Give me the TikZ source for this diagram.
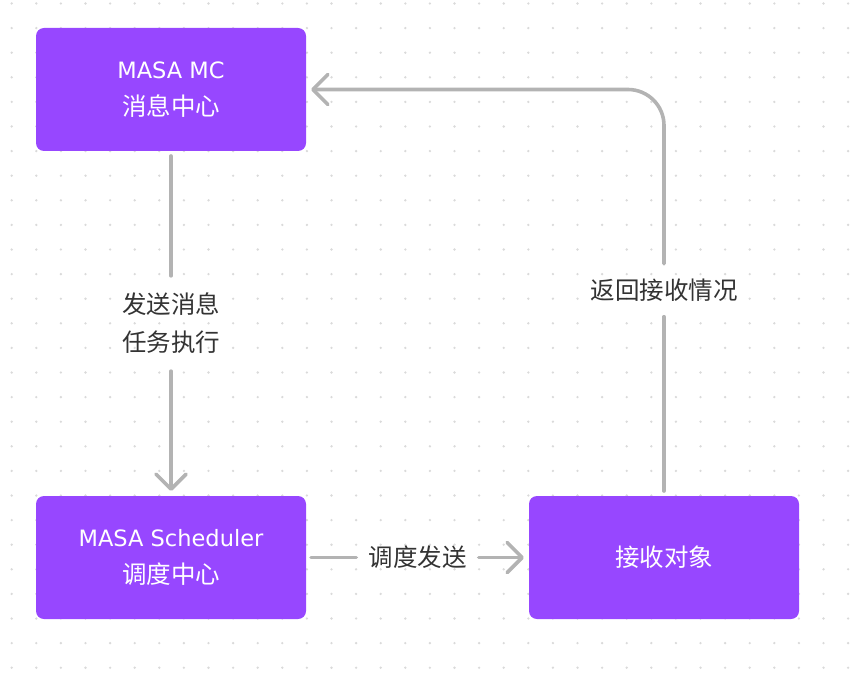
\documentclass[tikz,border=0pt]{standalone}
\usepackage{fontspec}
\setmainfont{DejaVu Sans}
\newfontfamily\cjk{Noto Sans CJK SC}
\usetikzlibrary{positioning}
\usetikzlibrary{arrows.meta}

\definecolor{viola}{HTML}{9747FF}
\definecolor{grigio}{HTML}{B3B3B3}
\definecolor{puntino}{HTML}{DADADA}
\definecolor{scuro}{HTML}{333333}

\begin{document}
\begin{tikzpicture}[x=1pt,y=-1pt,align=center,
scatola/.style={fill=viola,rounded corners=8pt,minimum width=270pt,minimum height=123pt,text=white,outer sep=5pt,font=\fontsize{22.5}{37}\selectfont},
etichetta/.style={text=scuro,font=\fontsize{24.5}{38}\selectfont\cjk},
freccia/.style={draw=grigio,line width=3.6pt,line cap=round,line join=round,-{Straight Barb[length=15pt,width=30pt,round]}},
linea/.style={draw=grigio,line width=3.6pt,line cap=round}
]
\useasboundingbox (0,0) rectangle (861,679);
% griglia di puntini
\foreach \i in {0,...,34}
  \foreach \j in {0,...,27}
    \fill[puntino] (11.7+24.6*\i,3.5+24.6*\j) circle (1.3pt);
%--
\node[scatola](mc) at (171,89.5){MASA MC\\{\cjk\fontsize{24.5}{37}\selectfont 消息中心}};
\node[scatola,below = 335pt of mc](sch){MASA Scheduler\\{\cjk\fontsize{24.5}{37}\selectfont 调度中心}};
\node[scatola,right = 213pt of sch](obj){{\cjk\fontsize{24.5}{37}\selectfont 接收对象}};
%--
\path (mc) -- (sch) node[etichetta,midway,inner xsep=4pt,inner ysep=17pt](lbl1){发送消息\\任务执行};
\draw[linea] (mc) -- (lbl1);
\draw[freccia] (lbl1) -- (sch);
%--
\path (sch) -- (obj) node[etichetta,midway,inner xsep=12pt,inner ysep=4pt](lbl2){调度发送};
\draw[linea] (sch) -- (lbl2);
\draw[freccia] (lbl2) -- (obj);
%--
\coordinate (angolo) at (obj.north |- mc.east);
\path (obj) -- (angolo) node[etichetta,midway,inner xsep=4pt,inner ysep=15pt](lbl3){返回接收情况};
\draw[linea] (obj) -- (lbl3);
\draw[freccia,rounded corners=36pt] (lbl3) -- (angolo) -- (mc.east);
\end{tikzpicture}
\end{document}
